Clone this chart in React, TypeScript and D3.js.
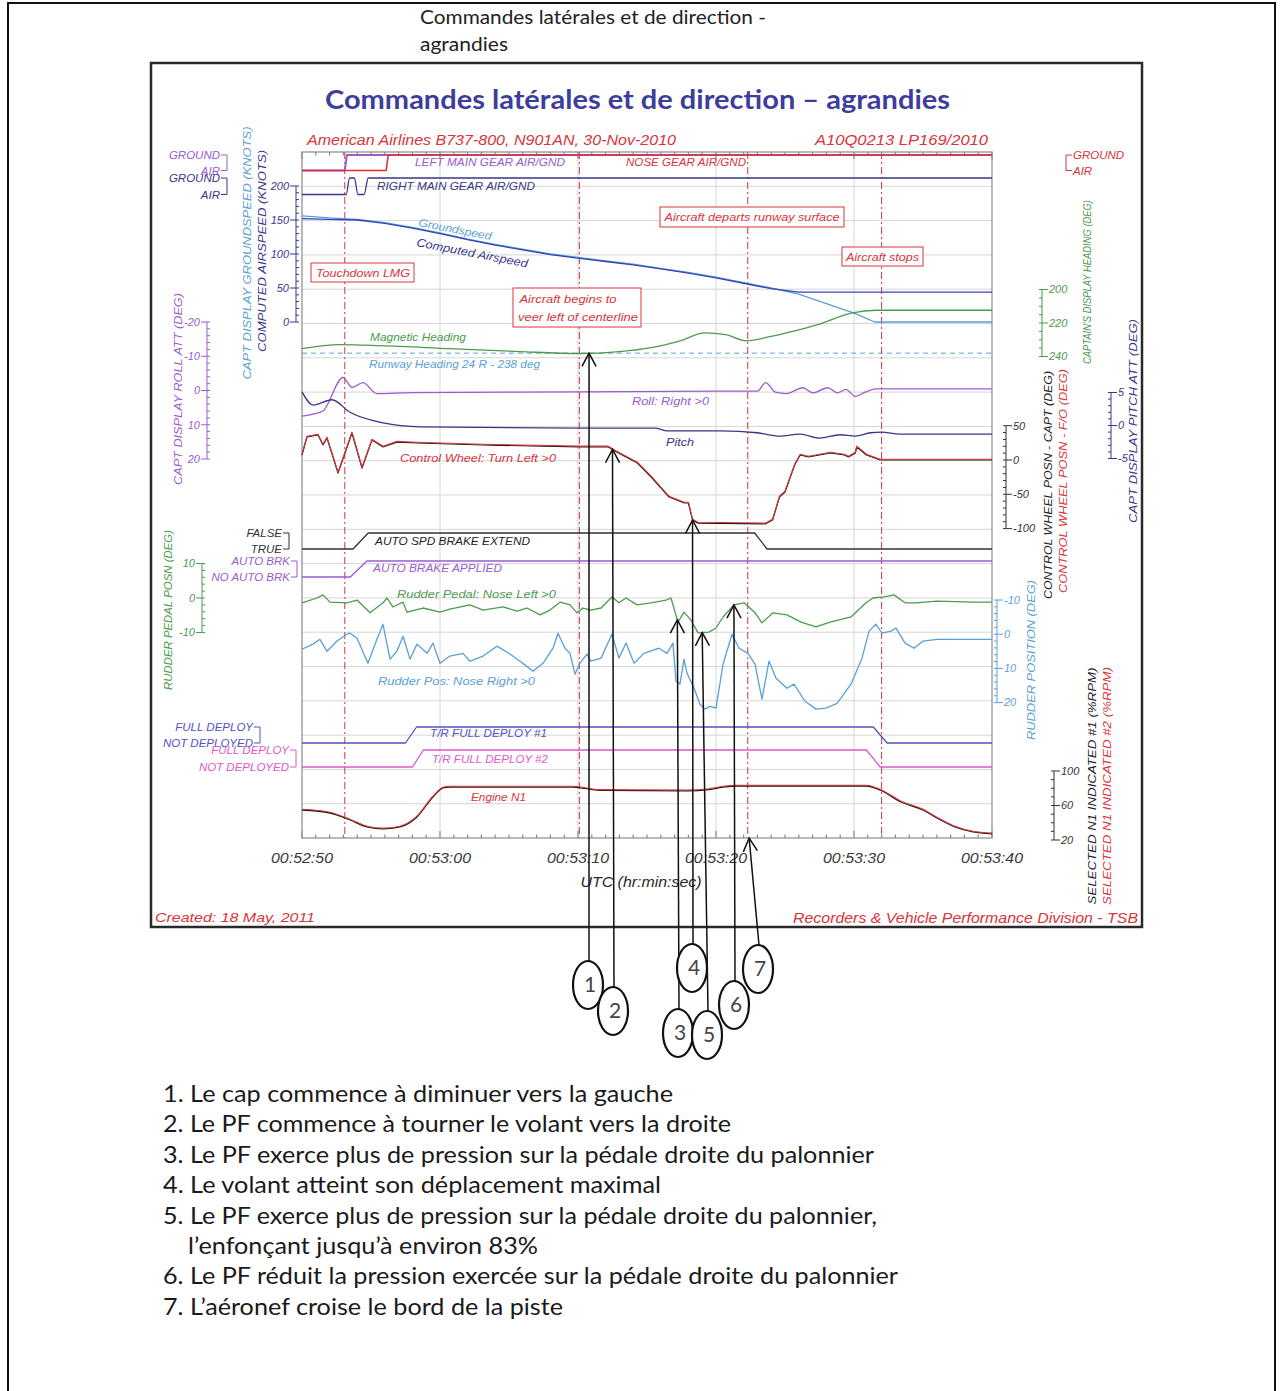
import React from "react";
import * as d3 from "d3";

// ---------------- data ----------------
const timeTickSec = [0, 10, 20, 30, 40, 50];
const timeTickLabels = ["00:52:50", "00:53:00", "00:53:10", "00:53:20", "00:53:30", "00:53:40"];
const eventSec = [3.1, 20.1, 32.3, 42.0];

const lmgT = [0, 3.1, 3.25, 50];
const lmgState = [0, 0, 1, 1];
const noseT = [0, 6.1, 6.25, 50];
const noseState = [0, 0, 1, 1];
const rmgT = [0, 3.2, 3.45, 3.8, 4.05, 4.5, 4.8, 50];
const rmgState = [0, 0, 1, 1, 0, 0, 1, 1];

const speedT = [0, 2, 4, 6, 8, 10, 12, 14, 16, 18, 20, 22, 24, 26, 28, 30, 32, 34, 36, 38, 40, 41.5, 50];
const casKt = [152, 151, 150, 145, 138, 130, 121, 113, 106, 99, 94, 89, 84, 78, 72, 65, 57, 49, 44, 44, 44, 44, 44];
const gsKt = [156, 153, 151, 146, 139, 131, 122, 114, 107, 100, 95, 90, 85, 79, 73, 66, 58, 50, 41, 27, 13, 0, 0];

const headingT = [0, 2.75, 5.65, 10.7, 15.8, 20.1, 23, 25.3, 27.4, 29.2, 30.7, 32.2, 33.9, 35.7, 37.5, 39.8, 41.6, 50];
const headingDeg = [235.3, 232.9, 233.5, 235.3, 237.1, 238.2, 237.1, 234.7, 230.6, 225.9, 227, 230.6, 228.2, 224.7, 220.6, 214.1, 212.4, 212.4];
const runwayHeading = 238;

const rollT = [0, 0.8, 1.52, 2.97, 3.62, 4.42, 5.43, 8, 20, 30, 33, 33.6, 34.3, 35.1, 36.3, 37.0, 38.1, 38.8, 39.4, 40.1, 40.8, 41.6, 50];
const rollDeg = [7.5, 6.9, 6.0, -3.8, -0.9, -2.3, 0.9, 0.6, 0.4, 0.2, 0.2, -2.3, 0.5, 0.9, -0.8, 0.7, -0.8, 0.7, -0.3, 1.7, 0.5, -0.5, -0.5];

const pitchT = [0, 0.8, 2.17, 3.48, 5.87, 8.55, 20, 25.6, 26.4, 30.3, 33, 34.6, 36.1, 37.5, 39, 40.1, 41.2, 42, 43.3, 50];
const pitchDeg = [5.1, 3.1, 3.9, 2.0, 0.4, -0.2, -0.4, -0.4, -0.8, -0.8, -1.1, -1.6, -1.3, -1.9, -1.4, -1.6, -1.1, -1.0, -1.3, -1.3];

const wheelT = [0, 0.36, 1.16, 1.52, 1.81, 2.61, 3.62, 4.35, 5.07, 5.87, 6.88, 8.33, 13.1, 20.1, 22.2, 22.8, 24.3, 25.3, 26.6, 27.7, 28.0, 28.3, 28.7, 33.6, 34.1, 34.6, 35.0, 35.7, 36.1, 36.7, 38.3, 39.3, 39.6, 40.1, 40.2, 40.9, 41.9, 50];
const wheelDeg = [7.3, 33.5, 36.4, 21.9, 32, -19, 39.4, -11.7, 29, 19, 26, 24.8, 21.9, 19, 19, 11.7, -4.4, -24.8, -54, -62.7, -62.7, -87.5, -92, -93, -87.5, -54, -46.6, -7.3, 7.3, 4.4, 10.2, 7.3, 4.4, 10.2, 19, 7.3, 0, 0];

const spdBrakeT = [0, 3.7, 4.8, 32.8, 33.7, 50];
const spdBrakeState = [0, 0, 1, 1, 0, 0];
const autoBrkT = [0, 3.5, 4.7, 50];
const autoBrkState = [0, 0, 1, 1];

const pedalT = [0, 1.09, 1.52, 2.03, 3.26, 3.99, 4.93, 5.87, 6.16, 6.59, 7.32, 7.61, 8.77, 10, 10.72, 12.17, 13.12, 14.57, 15.58, 16.3, 17.25, 17.97, 18.7, 19.42, 19.93, 20.36, 20.94, 21.67, 22.46, 22.97, 23.48, 24.28, 25.29, 26.38, 26.74, 27.03, 27.25, 27.68, 28.19, 28.7, 29.49, 30, 30.51, 31.3, 32.03, 32.83, 33.33, 34.13, 35.14, 36.16, 37.25, 38.26, 39.78, 40.87, 41.38, 42.17, 42.9, 43.7, 44.49, 46.01, 48.62, 50];
const pedalDeg = [-1.4, 0, 0.9, -1.2, -1.4, -0.6, -4.3, -1.4, 0, -2.6, -1.2, -4.1, -2.9, -4.1, -3.2, -2.0, -3.5, -2.6, -3.8, -2.9, -4.9, -3.5, -1.2, -2.0, -4.3, -2.9, -3.5, -2.9, 0.3, -1.4, 0, -2.0, -1.4, -0.6, 0, -4.1, -7.0, -4.1, -6.4, -10.1, -9.9, -8.7, -5.5, -2.0, -1.4, -4.3, -7.2, -4.3, -4.9, -7.0, -8.4, -7.0, -5.5, -1.4, 0, 0.3, 0.9, -1.4, -1.4, -0.9, -1.2, -1.2];

const rudderT = [0, 0.8, 1.3, 1.81, 2.54, 3.26, 3.48, 3.99, 4.78, 5.43, 5.87, 6.38, 6.88, 7.32, 7.83, 8.33, 9.06, 9.49, 10, 10.72, 11.67, 12.17, 13.12, 14.13, 15.07, 15.8, 16.74, 17.46, 18.19, 18.55, 19.06, 19.42, 19.78, 20.14, 20.65, 20.94, 21.67, 22.46, 22.97, 23.48, 24.06, 24.78, 25.87, 26.45, 26.88, 27.1, 27.39, 27.68, 27.9, 28.41, 28.84, 29.2, 29.57, 30, 30.51, 31.16, 31.67, 32.32, 32.83, 33.33, 33.84, 34.35, 35.14, 35.65, 36.45, 37.25, 37.97, 38.77, 39.78, 40.58, 41.09, 41.59, 42.03, 42.68, 43.04, 43.7, 44.35, 45, 46.01, 50];
const rudderDeg = [4.4, 2.9, 1.5, 5.0, 2.0, 0, -0.3, 1.2, 8.5, 1.5, -2.9, 7.3, 5.0, 0.6, 7.3, 2.9, 5.6, 2.6, 8.5, 6.4, 5.6, 7.9, 6.4, 3.5, 5.8, 7.9, 10.8, 8.5, 4.1, -0.3, 4.1, 5.6, 11.7, 8.5, 5.8, 7.9, 7.0, 0, 7.0, 2.6, 8.5, 5.6, 4.1, 5.6, 2.6, 13.7, 14.6, 7.3, 11.4, 15.8, 20.5, 21.9, 21.1, 21.6, 8.8, 0, 4.1, 5.6, 8.8, 19, 7.9, 12.9, 15.8, 14.6, 19.6, 21.9, 21.6, 20.2, 14.6, 7.0, -0.9, -2.9, -0.3, -0.9, -1.8, 2.6, 4.1, 2.0, 1.5, 1.5];

const tr1T = [0, 7.5, 8.3, 41.4, 42.4, 50];
const tr1State = [0, 0, 1, 1, 0, 0];
const tr2T = [0, 8.0, 8.8, 40.9, 41.9, 50];
const tr2State = [0, 0, 1, 1, 0, 0];

const n1T = [0, 2.03, 3.48, 4.71, 5.87, 7.1, 8.33, 9.49, 10.22, 10.72, 19.64, 21.59, 27.9, 29.49, 30.51, 31.52, 40.87, 41.88, 43.41, 45, 46.01, 47.32, 48.62, 50];
const n1Pct = [54.8, 51.3, 43.2, 35.1, 32.8, 35.1, 46.7, 69.9, 80.3, 81.4, 81.4, 77.5, 77.0, 78.5, 81.4, 82.6, 82.6, 78, 64.1, 54.8, 45.5, 35.1, 29.3, 27];

const calloutT = [20.8, 22.5, 27.2, 28.3, 29.0, 31.3, 32.4];
const calloutOn = ["heading", "wheel", "pedal", "wheel", "pedal", "pedal", "axis"];
const calloutNum = ["1", "2", "3", "4", "5", "6", "7"];

const listLines = [
  "1. Le cap commence à diminuer vers la gauche",
  "2. Le PF commence à tourner le volant vers la droite",
  "3. Le PF exerce plus de pression sur la pédale droite du palonnier",
  "4. Le volant atteint son déplacement maximal",
  "5. Le PF exerce plus de pression sur la pédale droite du palonnier,",
  "l’enfonçant jusqu’à environ 83%",
  "6. Le PF réduit la pression exercée sur la pédale droite du palonnier",
  "7. L’aéronef croise le bord de la piste",
];

// ---------------- styles ----------------
const F = "'Liberation Sans', Arial, sans-serif";
const FL = "Lato, 'Open Sans', sans-serif";
const C = {
  red: "#d8343a",
  purple: "#9a5ccf",
  navy: "#37378a",
  lblue: "#5a9fda",
  dblue: "#3444b4",
  green: "#4c9c4c",
  magenta: "#e058c8",
  indigo: "#5252c4",
  black: "#222",
  grid: "#d6d6d6",
  frame: "#8a8a8a",
};

// ---------------- scales ----------------
const PL = 302, PR = 992, PT = 152, PB = 838;
const x = d3.scaleLinear().domain([0, 50]).range([PL, PR]);
const yGrid = d3.scaleLinear().domain([0, 20]).range([PT, PB]);
const ySpeed = d3.scaleLinear().domain([0, 200]).range([322, 186]);
const yHeading = d3.scaleLinear().domain([200, 240]).range([289.5, 356.5]);
const yRoll = d3.scaleLinear().domain([-20, 20]).range([322, 459]);
const yPitch = d3.scaleLinear().domain([-5, 5]).range([458.5, 392.5]);
const yWheel = d3.scaleLinear().domain([-100, 50]).range([528.6, 425.7]);
const yPedal = d3.scaleLinear().domain([-10, 10]).range([632.5, 563.5]);
const yRudder = d3.scaleLinear().domain([-10, 20]).range([600, 702.6]);
const yN1 = d3.scaleLinear().domain([20, 100]).range([840, 771]);
const yLmg = d3.scaleLinear().domain([0, 1]).range([170.5, 155]);
const yNose = d3.scaleLinear().domain([0, 1]).range([170.5, 155]);
const yRmg = d3.scaleLinear().domain([0, 1]).range([194.5, 178]);
const ySpdBrk = d3.scaleLinear().domain([0, 1]).range([549, 533]);
const yAutoBrk = d3.scaleLinear().domain([0, 1]).range([577, 561]);
const yTr1 = d3.scaleLinear().domain([0, 1]).range([743, 727]);
const yTr2 = d3.scaleLinear().domain([0, 1]).range([767, 750]);

function path(ts: number[], vs: number[], ys: any, curve: any = d3.curveLinear, dy = 0) {
  return (
    d3
      .line<number>()
      .x((_, i) => x(ts[i]))
      .y((v) => ys(v) + dy)
      .curve(curve)(vs) || ""
  );
}
const interp = (ts: number[], vs: number[]) => d3.scaleLinear().domain(ts).range(vs);

function VAxis({ scale, x0, side, major, minorStep, color, fmt }: any) {
  const dom = scale.domain();
  const lo = Math.min(dom[0], dom[1]);
  const hi = Math.max(dom[0], dom[1]);
  const minors = d3.range(lo, hi + 1e-9, minorStep);
  const d = side === "left" ? -1 : 1;
  return (
    <g stroke={color} strokeWidth={1}>
      <line x1={x0} x2={x0} y1={scale(lo)} y2={scale(hi)} />
      {minors.map((v: number, i: number) => (
        <line key={"m" + i} x1={x0} x2={x0 - d * 3} y1={scale(v)} y2={scale(v)} />
      ))}
      {major.map((v: number, i: number) => (
        <line key={"M" + i} x1={x0} x2={x0 + d * 6} y1={scale(v)} y2={scale(v)} />
      ))}
      {major.map((v: number, i: number) => (
        <text
          key={"t" + i}
          x={x0 + d * 7}
          y={scale(v)}
          dy="0.35em"
          textAnchor={side === "left" ? "end" : "start"}
          fill={color}
          stroke="none"
          fontSize={11}
          fontStyle="italic"
          fontFamily={F}
        >
          {fmt ? fmt(v) : String(v)}
        </text>
      ))}
    </g>
  );
}

function StateLabels({ scale, xb, side, top, bot, color }: any) {
  const d = side === "left" ? -1 : 1;
  const yt = scale(1);
  const yb = scale(0);
  return (
    <g stroke={color} fill="none" strokeWidth={1}>
      <path d={`M${xb + d * 6},${yt}H${xb}V${yb}H${xb + d * 6}`} />
      <text x={xb + d * 7} y={yt} dy="0.35em" textAnchor={side === "left" ? "end" : "start"} fill={color} stroke="none" fontSize={11.5} fontStyle="italic" fontFamily={F}>
        {top}
      </text>
      <text x={xb + d * 7} y={yb} dy="0.35em" textAnchor={side === "left" ? "end" : "start"} fill={color} stroke="none" fontSize={11.5} fontStyle="italic" fontFamily={F}>
        {bot}
      </text>
    </g>
  );
}

function VTitle({ x0, yc, len, color, text }: any) {
  return (
    <text
      transform={`translate(${x0},${yc}) rotate(-90)`}
      textAnchor="middle"
      dy="0.35em"
      fill={color}
      fontSize={10.5}
      fontStyle="italic"
      fontFamily={F}
      textLength={len}
      lengthAdjust="spacingAndGlyphs"
    >
      {text}
    </text>
  );
}

function Lbl({ x0, y0, color, text, len, rot = 0, size = 11 }: any) {
  return (
    <text
      x={x0}
      y={y0}
      fill={color}
      fontSize={size}
      fontStyle="italic"
      fontFamily={F}
      textLength={len}
      lengthAdjust="spacingAndGlyphs"
      transform={rot ? `rotate(${rot},${x0},${y0})` : undefined}
    >
      {text}
    </text>
  );
}

function Note({ cx, cy, len, text }: any) {
  return (
    <text x={cx} y={cy} dy="0.35em" textAnchor="middle" fill={C.red} fontFamily={F} fontStyle="italic" fontSize={11.5} textLength={len} lengthAdjust="spacingAndGlyphs">
      {text}
    </text>
  );
}

export default function App() {
  const minorSec = d3.range(0, 51, 1);
  const calloutCx = [588, 613, 678, 692, 707, 734, 758];
  const calloutCy = [985, 1011, 1033, 968, 1035, 1005, 969];
  const tipY = (k: number) => {
    const t = calloutT[k];
    const on = calloutOn[k];
    if (on === "heading") return yHeading(interp(headingT, headingDeg)(t));
    if (on === "wheel") return yWheel(interp(wheelT, wheelDeg)(t));
    if (on === "pedal") return yPedal(interp(pedalT, pedalDeg)(t));
    return PB;
  };
  const listX = [163, 163, 163, 163, 163, 188, 163, 163];
  const listW = [510, 568, 711, 498, 714, 350, 735, 400];

  return (
    <svg width={1283} height={1391} style={{ position: "absolute", left: 0, top: 0, background: "#fff" }}>
      <rect x={0} y={0} width={1283} height={1391} fill="#fff" />
      {/* page frame */}
      <rect x={8} y={3} width={1267} height={1400} fill="none" stroke="#111" strokeWidth={2} />
      <text x={420} y={24} fontFamily={FL} fontSize={18.5} fill="#222" textLength={346} lengthAdjust="spacingAndGlyphs">
        Commandes latérales et de direction -
      </text>
      <text x={420} y={51} fontFamily={FL} fontSize={18.5} fill="#222" textLength={88} lengthAdjust="spacingAndGlyphs">
        agrandies
      </text>

      {/* chart box */}
      <rect x={151} y={63} width={991} height={864} fill="#fff" stroke="#2a2a2a" strokeWidth={2.5} />
      <text x={325} y={109} fontFamily={FL} fontWeight={700} fontSize={26} fill="#3d3d9e" textLength={625} lengthAdjust="spacingAndGlyphs">
        Commandes latérales et de direction – agrandies
      </text>
      <text x={307} y={145} fontFamily={F} fontStyle="italic" fontSize={15} fill={C.red} textLength={369} lengthAdjust="spacingAndGlyphs">
        American Airlines B737-800, N901AN, 30-Nov-2010
      </text>
      <text x={815} y={145} fontFamily={F} fontStyle="italic" fontSize={15} fill={C.red} textLength={173} lengthAdjust="spacingAndGlyphs">
        A10Q0213  LP169/2010
      </text>

      {/* grid */}
      <g stroke={C.grid} strokeWidth={1}>
        {d3.range(1, 20).map((k) => (
          <line key={"h" + k} x1={PL} x2={PR} y1={yGrid(k)} y2={yGrid(k)} />
        ))}
        {timeTickSec.slice(1, -1).map((s) => (
          <line key={"v" + s} x1={x(s)} x2={x(s)} y1={PT} y2={PB} />
        ))}
      </g>
      {/* event lines */}
      <g stroke={C.red} strokeWidth={1} strokeDasharray="7,3,2,3">
        {eventSec.map((s) => (
          <line key={"e" + s} x1={x(s)} x2={x(s)} y1={PT} y2={PB} />
        ))}
      </g>
      {/* annotation boxes */}
      <g fill="#fff" stroke={C.red} strokeWidth={1}>
        <rect x={311} y={263} width={103} height={19} />
        <rect x={513} y={288} width={128} height={39} />
        <rect x={660} y={207} width={184} height={20} />
        <rect x={842} y={247} width={81} height={19} />
      </g>
      <Note cx={363} cy={272.5} len={94} text="Touchdown LMG" />
      <Note cx={568} cy={298.5} len={97} text="Aircraft begins to" />
      <Note cx={578} cy={316.5} len={120} text="veer left of centerline" />
      <Note cx={752} cy={217} len={175} text="Aircraft departs runway surface" />
      <Note cx={882.5} cy={256.5} len={73} text="Aircraft stops" />

      {/* plot frame */}
      <g stroke={C.frame} strokeWidth={1.2} fill="none">
        <rect x={PL} y={PT} width={PR - PL} height={PB - PT} />
        {minorSec.map((s) => (
          <g key={"tk" + s}>
            <line x1={x(s)} x2={x(s)} y1={PB} y2={PB - (s % 10 === 0 ? 7 : 3.5)} />
            <line x1={x(s)} x2={x(s)} y1={PT} y2={PT + (s % 10 === 0 ? 7 : 3.5)} />
          </g>
        ))}
      </g>

      {/* traces */}
      <g fill="none" strokeWidth={1.3} strokeLinejoin="round">
        <path d={path(rmgT, rmgState, yRmg, d3.curveMonotoneX)} stroke={C.navy} />
        <path d={path(lmgT, lmgState, yLmg)} stroke={C.purple} strokeWidth={2} />
        <path d={path(noseT, noseState, yNose)} stroke={C.red} strokeWidth={1.6} />
        <path d={path(speedT, gsKt, ySpeed)} stroke={C.lblue} />
        <path d={path(speedT, casKt, ySpeed)} stroke={C.dblue} />
        <line x1={PL} x2={PR} y1={yHeading(runwayHeading)} y2={yHeading(runwayHeading)} stroke={C.lblue} strokeDasharray="5,4" strokeWidth={1} />
        <path d={path(headingT, headingDeg, yHeading, d3.curveMonotoneX)} stroke={C.green} />
        <path d={path(rollT, rollDeg, yRoll, d3.curveMonotoneX)} stroke={C.purple} />
        <path d={path(pitchT, pitchDeg, yPitch, d3.curveMonotoneX)} stroke={C.navy} />
        <path d={path(wheelT, wheelDeg, yWheel)} stroke="#1a1a1a" strokeWidth={1.2} />
        <path d={path(wheelT, wheelDeg, yWheel, d3.curveLinear, -0.8)} stroke={C.red} strokeWidth={1.1} />
        <path d={path(spdBrakeT, spdBrakeState, ySpdBrk)} stroke="#333" />
        <path d={path(autoBrkT, autoBrkState, yAutoBrk)} stroke={C.purple} />
        <path d={path(pedalT, pedalDeg, yPedal)} stroke={C.green} />
        <path d={path(rudderT, rudderDeg, yRudder)} stroke={C.lblue} />
        <path d={path(tr1T, tr1State, yTr1)} stroke={C.indigo} />
        <path d={path(tr2T, tr2State, yTr2)} stroke={C.magenta} />
        <path d={path(n1T, n1Pct, yN1, d3.curveMonotoneX)} stroke="#1a1a1a" strokeWidth={1.3} />
        <path d={path(n1T, n1Pct, yN1, d3.curveMonotoneX, -0.8)} stroke={C.red} strokeWidth={1.1} />
      </g>

      {/* trace labels */}
      <Lbl x0={415} y0={166} color={C.purple} text="LEFT MAIN GEAR AIR/GND" len={150} />
      <Lbl x0={626} y0={166} color={C.red} text="NOSE GEAR AIR/GND" len={120} />
      <Lbl x0={377} y0={190} color={C.navy} text="RIGHT MAIN GEAR AIR/GND" len={158} />
      <Lbl x0={418} y0={226} color={C.lblue} text="Groundspeed" rot={11} len={74} />
      <Lbl x0={416} y0={246} color={C.navy} text="Computed Airspeed" rot={11} len={113} size={11.5} />
      <Lbl x0={370} y0={341} color={C.green} text="Magnetic Heading" len={96} />
      <Lbl x0={369} y0={368} color={C.lblue} text="Runway Heading 24 R - 238 deg" len={171} />
      <Lbl x0={632} y0={405} color={C.purple} text="Roll: Right >0" len={77} />
      <Lbl x0={666} y0={446} color={C.navy} text="Pitch" len={28} />
      <Lbl x0={400} y0={462} color={C.red} text="Control Wheel: Turn Left >0" len={156} />
      <Lbl x0={375} y0={545} color={C.black} text="AUTO SPD BRAKE EXTEND" len={155} />
      <Lbl x0={373} y0={572} color={C.purple} text="AUTO BRAKE APPLIED" len={129} />
      <Lbl x0={397} y0={598} color={C.green} text="Rudder Pedal: Nose Left >0" len={159} />
      <Lbl x0={378} y0={685} color={C.lblue} text="Rudder Pos: Nose Right >0" len={157} />
      <Lbl x0={430} y0={737} color={C.indigo} text="T/R FULL DEPLOY #1" len={117} />
      <Lbl x0={432} y0={763} color={C.magenta} text="T/R FULL DEPLOY #2" len={116} />
      <Lbl x0={471} y0={801} color={C.red} text="Engine N1" len={55} />

      {/* state labels */}
      <StateLabels scale={yLmg} xb={227} side="left" top="GROUND" bot="AIR" color={C.purple} />
      <StateLabels scale={yRmg} xb={227} side="left" top="GROUND" bot="AIR" color={C.navy} />
      <StateLabels scale={ySpdBrk} xb={289} side="left" top="FALSE" bot="TRUE" color="#333" />
      <StateLabels scale={yAutoBrk} xb={297} side="left" top="AUTO BRK" bot="NO AUTO BRK" color={C.purple} />
      <StateLabels scale={yTr1} xb={260} side="left" top="FULL DEPLOY" bot="NOT DEPLOYED" color={C.indigo} />
      <StateLabels scale={yTr2} xb={296} side="left" top="FULL DEPLOY" bot="NOT DEPLOYED" color={C.magenta} />
      <StateLabels scale={yNose} xb={1066} side="right" top="GROUND" bot="AIR" color={C.red} />

      {/* value axes */}
      <VAxis scale={ySpeed} x0={296} side="left" major={[0, 50, 100, 150, 200]} minorStep={10} color={C.navy} />
      <VAxis scale={yRoll} x0={207} side="left" major={[-20, -10, 0, 10, 20]} minorStep={2} color={C.purple} />
      <VAxis scale={yPedal} x0={202} side="left" major={[10, 0, -10]} minorStep={2} color={C.green} />
      <VAxis scale={yHeading} x0={1042} side="right" major={[200, 220, 240]} minorStep={5} color={C.green} />
      <VAxis scale={yWheel} x0={1006} side="right" major={[50, 0, -50, -100]} minorStep={10} color="#333" />
      <VAxis scale={yPitch} x0={1111} side="right" major={[5, 0, -5]} minorStep={1} color={C.navy} />
      <VAxis scale={yRudder} x0={997} side="right" major={[-10, 0, 10, 20]} minorStep={2} color={C.lblue} />
      <VAxis scale={yN1} x0={1054} side="right" major={[100, 60, 20]} minorStep={10} color="#333" />

      {/* axis titles */}
      <VTitle x0={247} yc={253} len={253} color={C.lblue} text="CAPT DISPLAY GROUNDSPEED (KNOTS)" />
      <VTitle x0={262} yc={251} len={202} color={C.navy} text="COMPUTED AIRSPEED (KNOTS)" />
      <VTitle x0={178} yc={389} len={192} color={C.purple} text="CAPT DISPLAY ROLL ATT (DEG)" />
      <VTitle x0={168} yc={610} len={160} color={C.green} text="RUDDER PEDAL POSN (DEG)" />
      <VTitle x0={1087} yc={282} len={164} color={C.green} text="CAPTAIN'S DISPLAY HEADING (DEG)" />
      <VTitle x0={1048} yc={485} len={228} color="#222" text="CONTROL WHEEL POSN - CAPT (DEG)" />
      <VTitle x0={1063} yc={481} len={224} color={C.red} text="CONTROL WHEEL POSN - F/O (DEG)" />
      <VTitle x0={1133} yc={421} len={204} color={C.navy} text="CAPT DISPLAY PITCH ATT (DEG)" />
      <VTitle x0={1031} yc={660} len={160} color={C.lblue} text="RUDDER POSITION (DEG)" />
      <VTitle x0={1092} yc={786} len={237} color="#222" text="SELECTED N1 INDICATED #1 (%RPM)" />
      <VTitle x0={1107} yc={786} len={238} color={C.red} text="SELECTED N1 INDICATED #2 (%RPM)" />

      {/* time axis */}
      {timeTickSec.map((s, i) => (
        <text key={"tl" + s} x={x(s)} y={858} dy="0.35em" textAnchor="middle" fontFamily={F} fontStyle="italic" fontSize={15} fill="#3a3a3a" textLength={62} lengthAdjust="spacingAndGlyphs">
          {timeTickLabels[i]}
        </text>
      ))}
      <text x={641} y={882} dy="0.35em" textAnchor="middle" fontFamily={F} fontStyle="italic" fontSize={14.5} fill="#2a2a2a" textLength={121} lengthAdjust="spacingAndGlyphs">
        UTC (hr:min:sec)
      </text>
      <text x={155} y={922} fontFamily={F} fontStyle="italic" fontSize={13.5} fill={C.red} textLength={160} lengthAdjust="spacingAndGlyphs">
        Created: 18 May, 2011
      </text>
      <text x={793} y={923} fontFamily={F} fontStyle="italic" fontSize={14} fill={C.red} textLength={345} lengthAdjust="spacingAndGlyphs">
        Recorders &amp; Vehicle Performance Division - TSB
      </text>

      {/* callouts */}
      <g stroke="#111" fill="none" strokeWidth={1.5}>
        {calloutT.map((t, k) => {
          const cx = calloutCx[k];
          const cy = calloutCy[k];
          const x1 = cx + 1;
          const y1 = cy - 24;
          const x2 = x(t);
          const y2 = tipY(k);
          const th = Math.atan2(y2 - y1, x2 - x1);
          const L = 15;
          const a = (28 * Math.PI) / 180;
          const p1 = [x2 - L * Math.cos(th - a), y2 - L * Math.sin(th - a)];
          const p2 = [x2 - L * Math.cos(th + a), y2 - L * Math.sin(th + a)];
          return (
            <g key={"c" + k}>
              <line x1={x1} y1={y1} x2={x2} y2={y2} />
              <polyline points={`${p1[0]},${p1[1]} ${x2},${y2} ${p2[0]},${p2[1]}`} />
              <ellipse cx={cx} cy={cy} rx={15} ry={24} fill="#fff" strokeWidth={2.2} />
              <text x={cx + 2} y={cy + 7} textAnchor="middle" fontFamily={FL} fontSize={21} fill="#444" stroke="none">
                {calloutNum[k]}
              </text>
            </g>
          );
        })}
      </g>

      {/* list */}
      {listLines.map((s, i) => (
        <text
          key={"l" + i}
          x={listX[i]}
          y={1102 + i * 30.4}
          fontFamily={FL}
          fontSize={23}
          fill="#1a1a1a"
          textLength={listW[i]}
          lengthAdjust="spacingAndGlyphs"
        >
          {s}
        </text>
      ))}
    </svg>
  );
}
